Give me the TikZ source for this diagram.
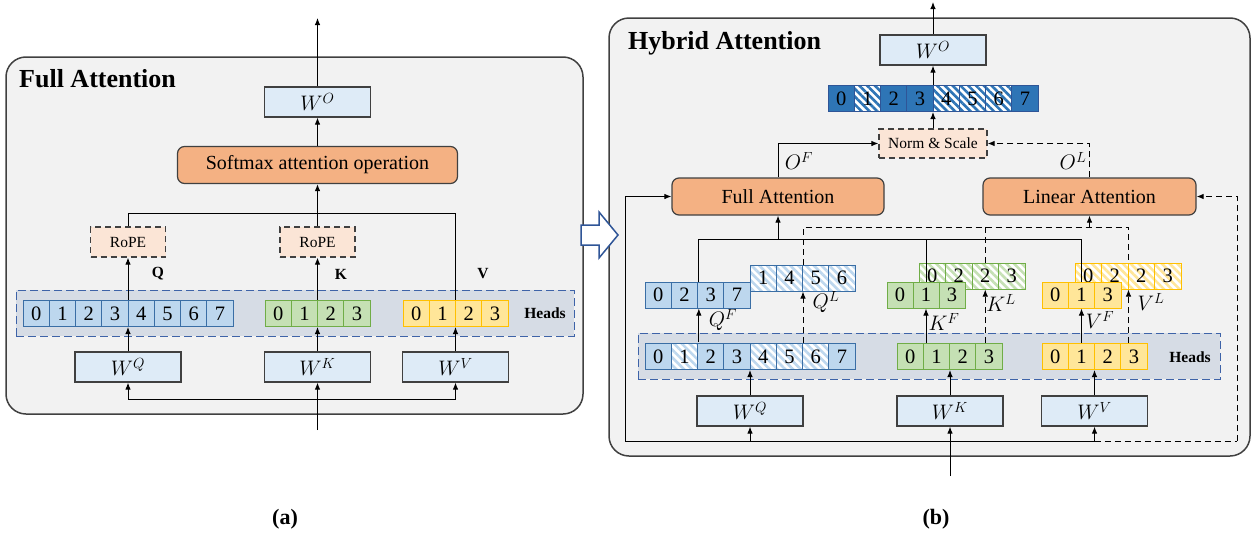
\RequirePackage{fix-cm}
\documentclass[tikz,border=0pt]{standalone}
\usepackage{fontspec}
\setmainfont{Liberation Serif}
\usetikzlibrary{arrows.meta,patterns.meta}
\definecolor{panelbg}{HTML}{F2F2F2}
\definecolor{dark}{HTML}{404040}
\definecolor{wfill}{HTML}{DEEBF7}
\definecolor{orng}{HTML}{F4B183}
\definecolor{peach}{HTML}{FBE5D6}
\definecolor{headsbg}{HTML}{D6DCE5}
\definecolor{headsln}{HTML}{3E63A8}
\definecolor{arrln}{HTML}{2F5597}
\definecolor{qfill}{HTML}{BDD7EE}
\definecolor{qline}{HTML}{3A6EA5}
\definecolor{kfill}{HTML}{C5E0B4}
\definecolor{kline}{HTML}{70AD47}
\definecolor{vfill}{HTML}{FFE699}
\definecolor{vline}{HTML}{FFC000}
\definecolor{ofill}{HTML}{2E75B6}
\definecolor{oline}{HTML}{2F5597}
\newcommand{\myfs}[1]{\fontsize{#1}{#1}\selectfont}
\tikzset{
  panel/.style={draw=dark, line width=1.5pt, fill=panelbg, rounded corners=20pt},
  ttl/.style={font=\myfs{26}\bfseries, inner sep=0pt, anchor=base west},
  wbox/.style={draw=dark, line width=1.2pt, fill=wfill, minimum width=106pt, minimum height=30pt, inner sep=0pt, font=\myfs{21}},
  opbox/.style={draw=dark, line width=1.2pt, fill=orng, rounded corners=7pt, minimum height=37pt, inner sep=0pt, font=\myfs{20}},
  dbox/.style={draw=dark, line width=1.2pt, dash pattern=on 6pt off 4pt, fill=peach, minimum height=30pt, inner sep=0pt, font=\myfs{15.5}},
  headsbox/.style={draw=headsln, line width=1pt, dash pattern=on 8pt off 4pt, fill=headsbg, minimum height=46pt, inner sep=0pt},
  cellbase/.style={minimum width=26.25pt, minimum height=26pt, inner sep=0pt, line width=1pt, font=\myfs{20.5}},
  hatch/.style={preaction={fill=white}, pattern={Lines[angle=-45,distance=5.5pt,line width=2.6pt]}},
  qc/.style={cellbase, draw=qline, fill=qfill},
  qh/.style={cellbase, draw=qline, hatch, pattern color=qfill},
  kc/.style={cellbase, draw=kline, fill=kfill},
  kh/.style={cellbase, draw=kline, hatch, pattern color=kfill},
  vc/.style={cellbase, draw=vline, fill=vfill},
  vh/.style={cellbase, draw=vline, hatch, pattern color=vfill},
  oc/.style={cellbase, draw=oline, fill=ofill},
  oh/.style={cellbase, draw=oline, hatch, pattern color=ofill},
  conn/.style={line width=1pt, draw=black},
  arr/.style={conn, -{Latex[length=7pt,width=5.5pt]}},
  dconn/.style={conn, dash pattern=on 6pt off 4pt},
  darr/.style={arr, dash pattern=on 6pt off 4pt},
  lbl/.style={font=\myfs{15.5}\bfseries, inner sep=0pt},
  mlbl/.style={font=\myfs{21}, inner sep=0pt},
  bigarrow/.style={draw=arrln, line width=1.5pt, fill=white, line join=miter},
}
\begin{document}
\begin{tikzpicture}[x=1pt, y=-1pt]
\path[use as bounding box] (0,0) rectangle (1253,533);
% ---------------- panel (a) ----------------
\draw[panel] (6,57) rectangle (583,414);
\node[ttl] (ttla) at (19,87) {Full Attention};
\node[headsbox, minimum width=558pt] (headsa) at (295,313) {};
\node[lbl] (headsla) at (545,313) {Heads};
\foreach \d [count=\i from 0] in {0,...,7} \node[qc] (qa\i) at ({36.125+26.25*\i},313.5) {\d};
\foreach \d [count=\i from 0] in {0,...,3} \node[kc] (ka\i) at ({278.125+26.25*\i},313.5) {\d};
\foreach \d [count=\i from 0] in {0,...,3} \node[vc] (va\i) at ({416.125+26.25*\i},313.5) {\d};
\node[wbox] (wqa) at (128,367) {$W^Q$};
\node[wbox] (wka) at (317.5,367) {$W^K$};
\node[wbox] (wva) at (455.5,367) {$W^V$};
\node[dbox, minimum width=75pt] (ropeq) at (128,242) {RoPE};
\node[dbox, minimum width=75pt] (ropek) at (317.5,242) {RoPE};
\node[opbox, minimum width=280pt] (smax) at (317.5,165) {Softmax attention operation};
\node[wbox] (woa) at (317.5,102) {$W^O$};
\node[lbl] (ql) at (158,274) {Q};
\node[lbl] (kl) at (341,274) {K};
\node[lbl] (vl) at (483,274) {V};
\coordinate (outa) at (317.5,18);
\coordinate (ina) at (317.5,430);
\coordinate (ybota) at (0,399);
\coordinate (ytopa) at (0,213);
\draw[arr] (wqa.north) -- (wqa.north |- qa0.south);
\draw[arr] (wka.north) -- (wka.north |- ka0.south);
\draw[arr] (wva.north) -- (wva.north |- va0.south);
\draw[arr] (wqa.north |- qa0.north) -- (ropeq.south);
\draw[arr] (wka.north |- ka0.north) -- (ropek.south);
\draw[conn] (ropeq.north) |- (wva.north |- ytopa) -- (wva.north |- va0.north);
\draw[arr] (ropek.north) -- (smax.south);
\draw[arr] (smax.north) -- (woa.south);
\draw[arr] (woa.north) -- (outa);
\draw[arr] (ina) -- (wka.south);
\draw[arr] (wka.south |- ybota) -| (wqa.south);
\draw[arr] (wka.south |- ybota) -| (wva.south);
% ---------------- panel (b) ----------------
\draw[panel] (609,18) rectangle (1250,456);
\node[ttl] (ttlb) at (628,49) {Hybrid Attention};
\node[headsbox, minimum width=582pt] (headsb) at (929,356) {};
\node[lbl] (headslb) at (1190,357) {Heads};
\foreach \d/\s [count=\i from 0] in {0/qc,1/qh,2/qc,3/qc,4/qh,5/qh,6/qh,7/qc}
  \node[\s] (qb\i) at ({658.125+26.25*\i},356.5) {\d};
\foreach \d [count=\i from 0] in {0,...,3} \node[kc] (kb\i) at ({910.125+26.25*\i},356.5) {\d};
\foreach \d [count=\i from 0] in {0,...,3} \node[vc] (vb\i) at ({1055.125+26.25*\i},356.5) {\d};
\foreach \d [count=\i from 0] in {0,2,3,7} \node[qc] (qf\i) at ({658.125+26.25*\i},295) {\d};
\foreach \d [count=\i from 0] in {1,4,5,6} \node[qh] (qlc\i) at ({763.125+26.25*\i},278) {\d};
\foreach \d [count=\i from 0] in {0,2,2,3} \node[kh, minimum width=26.5pt] (klc\i) at ({932.25+26.5*\i},276) {\d};
\foreach \d [count=\i from 0] in {0,1,3} \node[kc, minimum width=26pt] (kf\i) at ({900+26*\i},295) {\d};
\foreach \d [count=\i from 0] in {0,2,2,3} \node[vh, minimum width=26.5pt] (vlc\i) at ({1088.25+26.5*\i},276) {\d};
\foreach \d [count=\i from 0] in {0,1,3} \node[vc, minimum width=26.33pt] (vf\i) at ({1055.17+26.33*\i},295) {\d};
\foreach \d/\s [count=\i from 0] in {0/oc,1/oh,2/oc,3/oc,4/oh,5/oh,6/oh,7/oc}
  \node[\s] (ob\i) at ({841.125+26.25*\i},98.5) {\d};
\node[wbox] (wqb) at (750,411) {$W^Q$};
\node[wbox] (wkb) at (950,411) {$W^K$};
\node[wbox] (wvb) at (1094.5,411) {$W^V$};
\node[opbox, minimum width=212pt] (fa) at (778,196.5) {Full Attention};
\node[opbox, minimum width=213pt] (la) at (1089.5,196.5) {Linear Attention};
\node[dbox, minimum width=108pt, minimum height=29pt] (norm) at (933,143.5) {Norm \& Scale};
\node[wbox] (wob) at (933,50) {$W^O$};
\node[mlbl] (lof) at (799,161) {$O^F$};
\node[mlbl] (lol) at (1073,161) {$O^L$};
\node[mlbl] (lqf) at (723,320) {$Q^F$};
\node[mlbl] (lql) at (826,302) {$Q^L$};
\node[mlbl] (lkf) at (944,322) {$K^F$};
\node[mlbl] (lkl) at (1001,303) {$K^L$};
\node[mlbl] (lvf) at (1100,320) {$V^F$};
\node[mlbl] (lvl) at (1151,302) {$V^L$};
\coordinate (ysol) at (0,239);
\coordinate (ydash) at (0,227);
\coordinate (ybotb) at (0,441);
\coordinate (lcorner) at (625,441);
\coordinate (rcorner) at (1237,441);
\coordinate (outb) at (933,2);
\coordinate (inb) at (950,476);
% head -> projections
\draw[arr] (wqb.north) -- (wqb.north |- qb0.south);
\draw[arr] (wkb.north) -- (wkb.north |- kb0.south);
\draw[arr] (wvb.north) -- (wvb.north |- vb0.south);
\draw[arr] (qb1.north east) -- (qb1.north east |- qf0.south);
\draw[arr] (kf1.south |- kb0.north) -- (kf1.south);
\draw[arr] (vf1.south |- vb0.north) -- (vf1.south);
\draw[darr] (qlc1.south east |- qb0.north) -- (qlc1.south east);
\draw[darr] (klc2.south |- kb0.north) -- (klc2.south);
\draw[darr] (vlc1.south east |- vb0.north) -- (vlc1.south east);
% full branch
\draw[conn] (qf1.north east) |- (vf1.north |- ysol) -- (vf1.north);
\draw[conn] (kf1.north |- ysol) -- (kf1.north);
\draw[arr] (fa.south |- ysol) -- (fa.south);
% linear branch
\draw[dconn] (qlc1.north east) |- (vlc1.north east |- ydash) -- (vlc1.north east);
\draw[dconn] (klc2.north) -- (klc2.north |- ydash);
\draw[darr] (la.south |- ydash) -- (la.south);
% outputs
\draw[arr] (fa.north) |- (norm.west);
\draw[darr] (la.north) |- (norm.east);
\draw[arr] (norm.north) -- (norm.north |- ob0.south);
\draw[arr] (norm.north |- ob0.north) -- (wob.south);
\draw[arr] (wob.north) -- (outb);
% input and feedback
\draw[arr] (inb) -- (wkb.south);
\draw[conn] (lcorner) -- (wvb.south |- ybotb);
\draw[arr] (wqb.south |- ybotb) -- (wqb.south);
\draw[arr] (wvb.south |- ybotb) -- (wvb.south);
\draw[arr] (lcorner) |- (fa.west);
\draw[dconn] (wvb.south |- ybotb) -- (rcorner);
\draw[darr] (rcorner) |- (la.east);
% big arrow between panels
\draw[bigarrow] (581,225) -- (599,225) -- (599,212) -- (618,235) -- (599,258) -- (599,245) -- (581,245) -- cycle;
% captions
\node[font=\myfs{22}\bfseries] (capa) at (285,519) {(a)};
\node[font=\myfs{22}\bfseries] (capb) at (936,519) {(b)};
\end{tikzpicture}
\end{document}
